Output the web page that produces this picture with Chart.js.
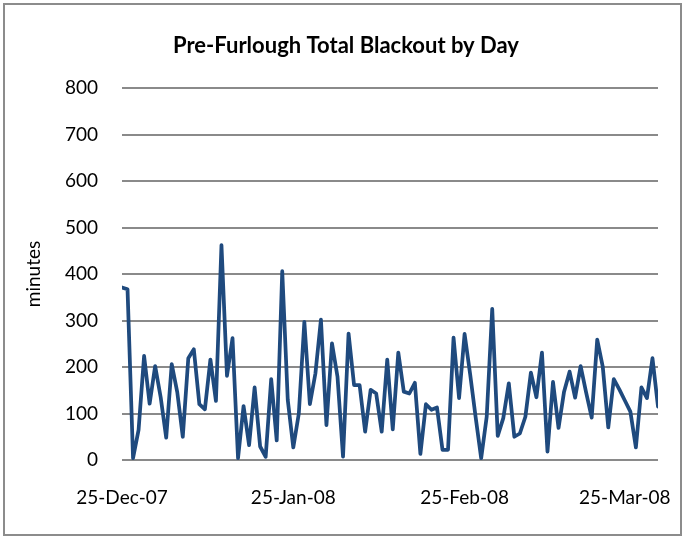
<!DOCTYPE html>
<html>
<head>
<meta charset="utf-8">
<script src="https://cdn.jsdelivr.net/npm/chart.js@4/dist/chart.umd.min.js"></script>
<style>
  html, body { margin: 0; padding: 0; background: #fff; }
  #wrap { position: relative; width: 684px; height: 538px; }
  #frame {
    position: absolute; left: 3px; top: 3px; width: 679px; height: 533px;
    box-sizing: border-box; border: 2px solid #8c8c8c; pointer-events: none;
  }
  canvas { position: absolute; left: 0; top: 0; }
</style>
</head>
<body>
<div id="wrap">
  <canvas id="chart" width="684" height="538"></canvas>
  <div id="frame"></div>
</div>
<script>
// ------------------------------------------------
// Pre-Furlough Total Blackout by Day (minutes)
// one value per day, 25-Dec-07 .. 31-Mar-08
// ------------------------------------------------
const minutes = [
  371, 367,   4,  65, 224, 121, 202, 135,  48, 206,
  146,  50, 219, 238, 120, 109, 216, 127, 462, 181,
  262,   4, 116,  32, 156,  29,   7, 174,  42, 406,
  129,  27, 100, 297, 120, 186, 302,  75, 251, 179,
    7, 272, 161, 161,  61, 151, 143,  61, 216,  66,
  231, 147, 143, 166,  13, 120, 108, 113,  22,  22,
  263, 133, 271, 185,  92,   4,  93, 325,  52,  90,
  165,  50,  57,  93, 188, 135, 231,  18, 168,  69,
  147, 190, 134, 202, 145,  91, 259, 201,  70, 174,
  152, 128, 104,  27, 156, 133, 219, 115
];

// day offsets (from 25-Dec-07) where the axis labels sit
const tickDays   = [0, 31, 62, 91];
const tickLabels = ['25-Dec-07', '25-Jan-08', '25-Feb-08', '25-Mar-08'];
const yTicks     = [0, 100, 200, 300, 400, 500, 600, 700, 800];

const FONT = 'Lato, "Open Sans", sans-serif';
const GRID = '#8a8a8a';
const LINE = '#1f4a7e';

const PAD_LEFT = 34;
const PLOT_LEFT = 122;
const PLOT_BOTTOM = 460;
const H = 538;

new Chart(document.getElementById('chart'), {
  type: 'line',
  data: {
    datasets: [{
      label: 'minutes',
      data: minutes.map((v, i) => ({ x: i, y: v })),
      borderColor: LINE,
      borderWidth: 3.75,
      borderJoinStyle: 'round',
      borderCapStyle: 'round',
      pointRadius: 0,
      tension: 0,
      fill: false,
    }]
  },
  options: {
    responsive: false,
    animation: false,
    layout: { padding: { left: PAD_LEFT, right: 26, top: 0, bottom: 0 } },
    plugins: {
      legend: { display: false },
      tooltip: { enabled: false },
      title: {
        display: true,
        text: 'Pre-Furlough Total Blackout by Day',
        color: '#000',
        font: { family: FONT, size: 22, weight: 'bold' },
        padding: { top: 33, bottom: 28.6 },
      }
    },
    scales: {
      x: {
        type: 'linear',
        min: 0,
        max: minutes.length - 1,
        afterBuildTicks: s => { s.ticks = tickDays.map(v => ({ value: v })); },
        afterFit: s => {
          s.height = H - PLOT_BOTTOM;
          s.paddingLeft = 0;
          s.paddingRight = 0;
        },
        ticks: {
          autoSkip: false,
          maxRotation: 0,
          padding: 18,
          color: '#000',
          font: { family: FONT, size: 19 },
          callback: v => tickLabels[tickDays.indexOf(v)],
        },
        grid: { display: false },
        border: { display: false },
      },
      y: {
        min: 0,
        max: 800,
        afterBuildTicks: s => { s.ticks = yTicks.map(v => ({ value: v })); },
        afterFit: s => { s.width = PLOT_LEFT - PAD_LEFT; },
        ticks: {
          padding: 24,
          color: '#000',
          font: { family: FONT, size: 19 },
        },
        grid: { color: GRID, lineWidth: 2, drawTicks: false },
        border: { display: false },
        title: {
          display: true,
          text: 'minutes',
          color: '#000',
          font: { family: FONT, size: 19 },
          padding: { top: -12, bottom: 0 },
        }
      }
    }
  }
});
</script>
</body>
</html>
